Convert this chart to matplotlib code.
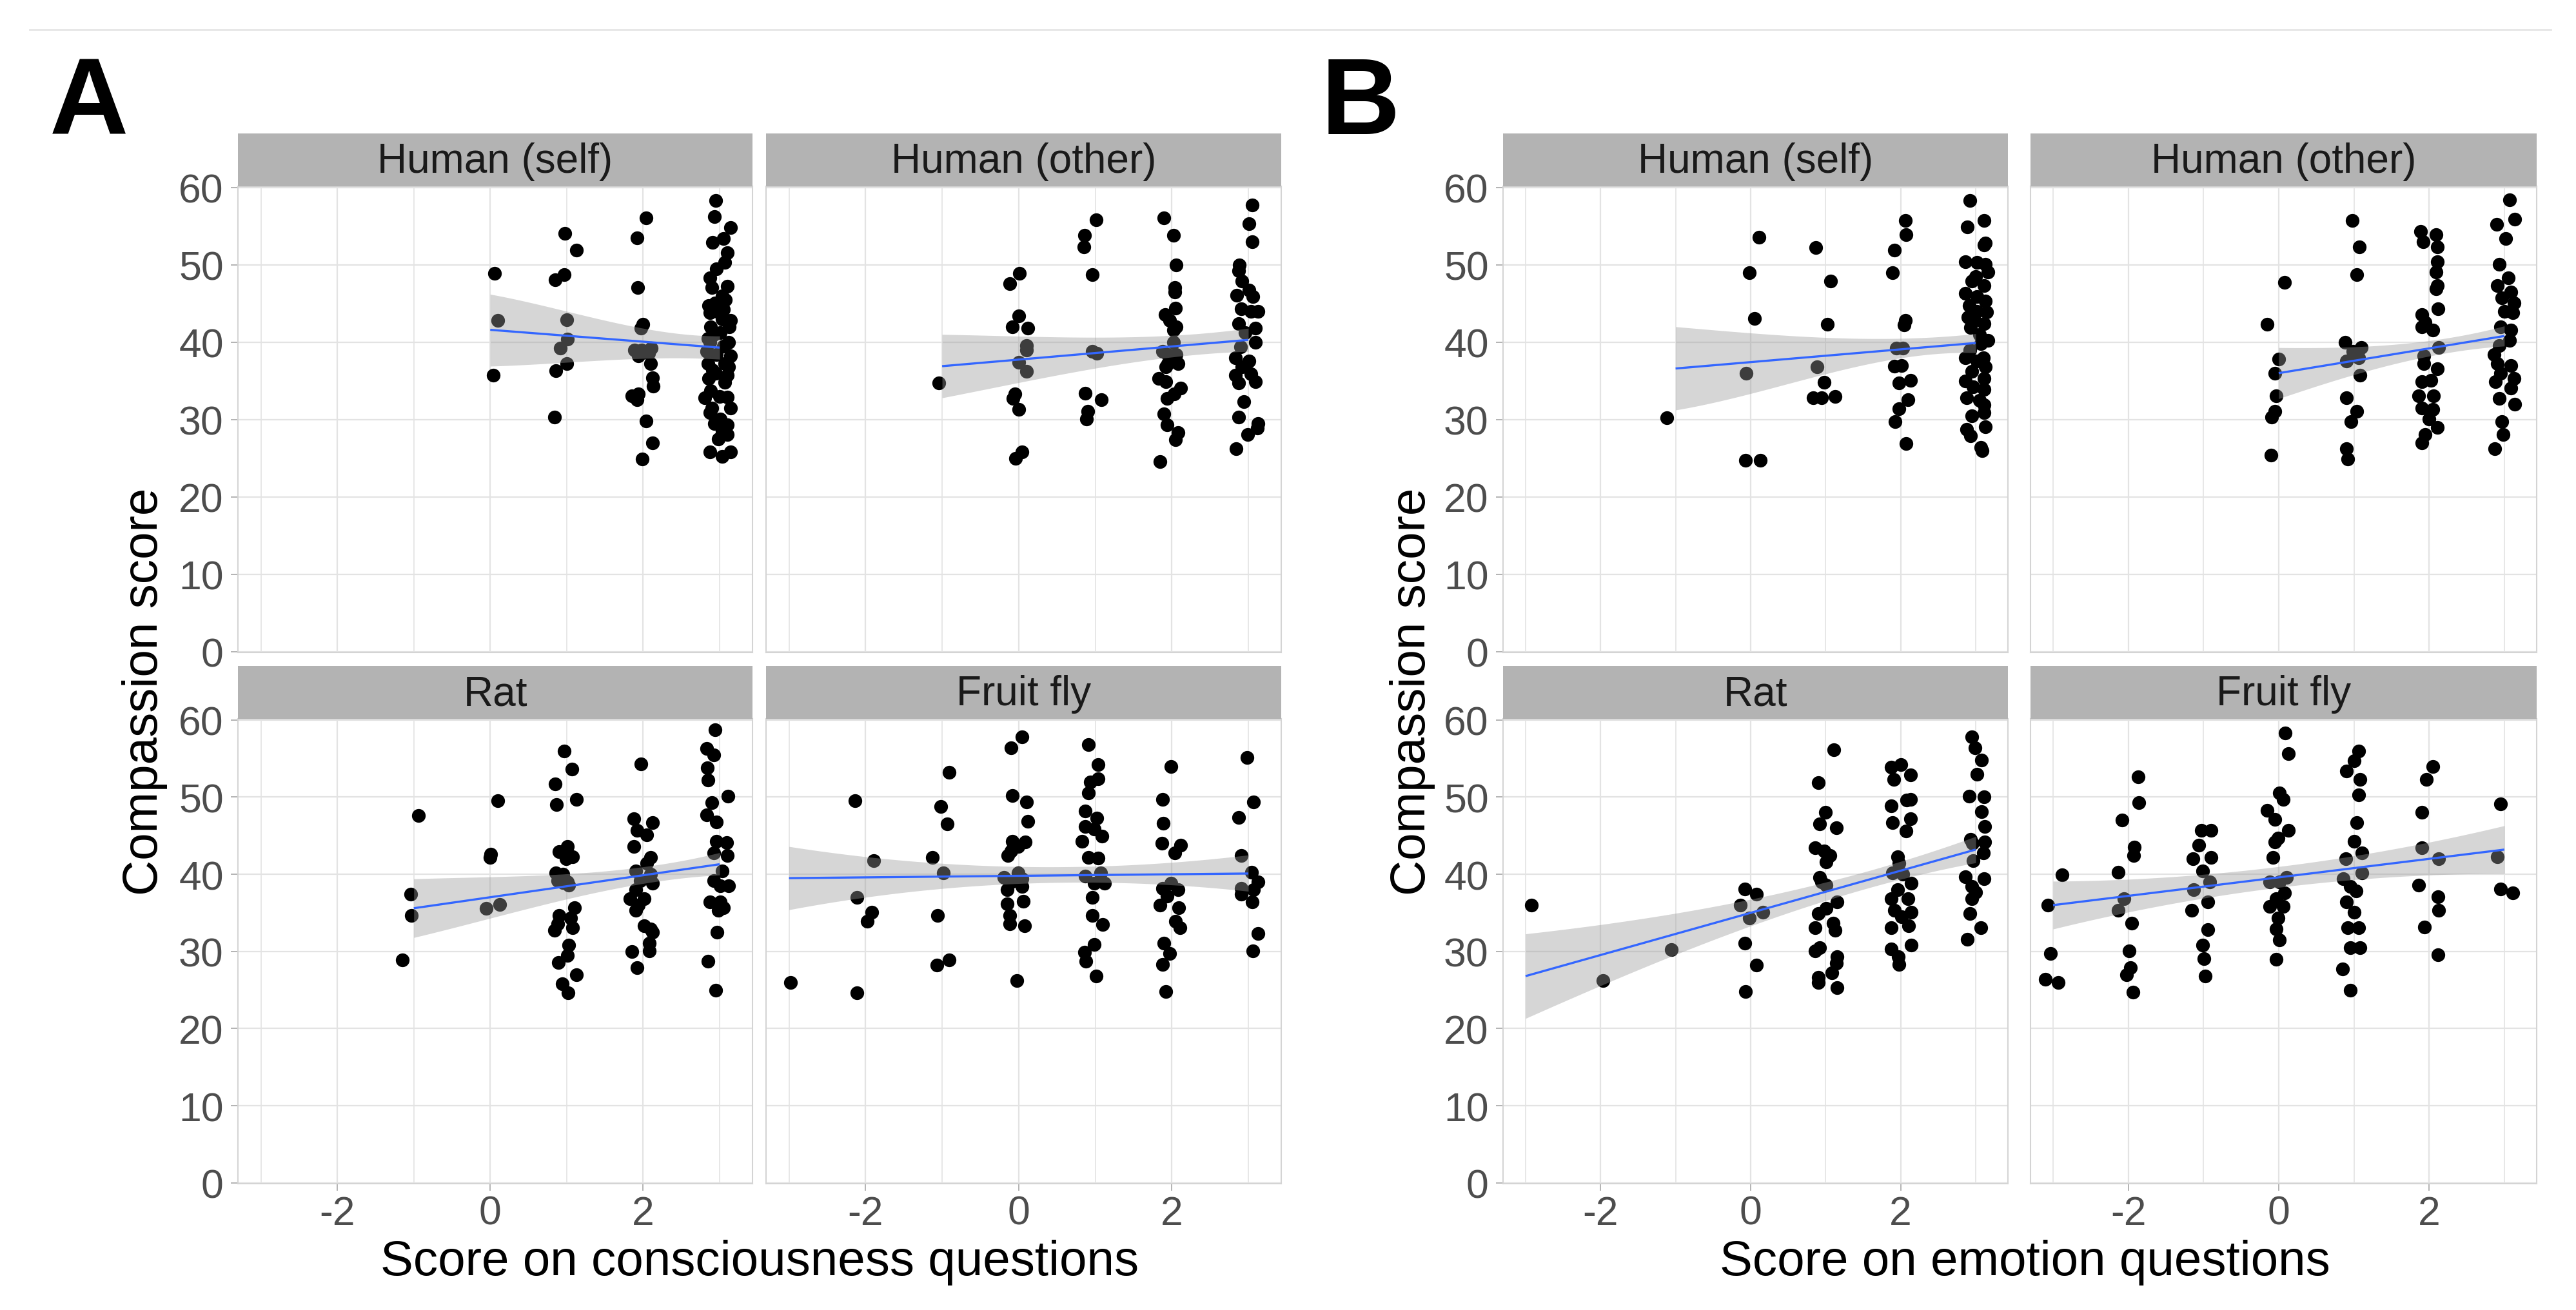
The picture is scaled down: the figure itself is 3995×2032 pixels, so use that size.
import numpy as np
import matplotlib
matplotlib.use("Agg")
import matplotlib.pyplot as plt

plt.rcParams['font.family'] = ['Liberation Sans', 'DejaVu Sans']
plt.rcParams['axes.unicode_minus'] = False

# ---------------- data ----------------
facet_labels = ["Human (self)", "Human (other)", "Rat", "Fruit fly"]
x_title_A = "Score on consciousness questions"
x_title_B = "Score on emotion questions"
y_title = "Compassion score"
x_tick_values = [-2, 0, 2]
y_tick_values = [0, 10, 20, 30, 40, 50, 60]

# Panel A: consciousness questions
cons_self_x = [0.06, 0.10, 0.04,
               0.98, 1.13, 0.97, 0.85, 1.00, 1.01, 0.92, 1.00, 0.86, 0.84,
               2.04, 1.92, 1.93, 2.00, 1.97, 1.89, 1.98, 2.11, 2.07, 1.94, 2.10, 2.12, 2.13, 1.85, 1.94, 1.92, 2.04, 2.12, 1.99,
               2.95, 2.93, 3.14, 2.91, 3.05, 3.10, 3.07, 2.96, 2.87, 3.10, 2.90, 3.03, 2.94, 2.86, 2.87, 3.05, 3.03, 3.14,
               2.88, 3.13, 3.01, 3.12, 2.87, 2.83, 2.96, 3.14, 2.85, 3.07, 2.91, 3.10, 2.86, 3.07, 2.88, 2.81, 3.10, 3.14,
               2.87, 3.01, 3.10, 3.03, 3.10, 2.98, 2.87, 3.03, 3.14,
               2.92, 3.05, 2.95, 3.00, 2.90, 3.08, 2.97, 2.85, 3.12, 2.93]
cons_self_y = [48.9, 42.8, 35.7,
               54.1, 51.9, 48.7, 48.1, 42.9, 40.4, 39.2, 37.2, 36.3, 30.3,
               56.1, 53.5, 47.1, 42.3, 41.8, 39.0, 39.0, 39.2, 38.6, 38.2, 37.2, 35.4, 34.3, 33.1, 33.3, 32.6, 29.8, 27.0, 24.9,
               58.3, 56.2, 54.8, 52.9, 53.4, 51.6, 50.3, 49.5, 48.3, 47.2, 47.1, 46.0, 45.1, 44.7, 43.8, 44.2, 43.0, 42.8,
               42.0, 42.0, 41.2, 40.0, 40.0, 38.8, 38.4, 38.2, 37.2, 37.2, 36.4, 35.7, 35.3, 34.8, 33.7, 32.8, 32.9, 31.5,
               30.9, 30.1, 29.3, 28.5, 28.1, 27.5, 25.8, 25.2, 25.8,
               41.0, 39.5, 36.0, 33.0, 31.5, 45.5, 44.0, 40.5, 36.8, 29.5]
cons_self_fit_x = [0, 3]
cons_self_fit_y = [41.6, 39.3]
cons_self_band_x = [0, 1, 2, 3]
cons_self_band_hi = [46.2, 44.0, 41.8, 40.8]
cons_self_band_lo = [36.9, 37.4, 37.9, 37.8]

cons_other_x = [-1.04,
                0.01, -0.12, 0.00, -0.08, 0.12, 0.10, 0.10, 0.00, 0.10, -0.05, -0.07, 0.00, 0.04, -0.04,
                1.01, 0.86, 0.85, 0.96, 0.96, 1.02, 0.87, 1.08, 0.90, 0.89,
                1.90, 2.02, 2.06, 2.04, 2.04, 2.05, 1.91, 1.97, 2.06, 2.02, 2.02, 1.88, 1.95, 2.06, 1.95, 2.08, 1.92, 1.83,
                1.92, 2.12, 2.03, 1.94, 1.90, 1.94, 2.08, 2.05, 1.85,
                3.05, 3.01, 3.05, 2.88, 2.87, 2.92, 3.01, 2.85, 3.06, 2.91, 3.13, 3.03, 2.87, 3.09, 2.96, 3.09, 2.90, 2.83,
                3.01, 2.92, 3.03, 2.83, 3.09, 2.87, 2.94, 2.87, 3.13, 3.12, 2.99, 2.84]
cons_other_y = [34.7,
                48.9, 47.6, 43.4, 42.0, 41.8, 39.6, 39.0, 37.4, 36.2, 33.3, 32.7, 31.3, 25.8, 25.0,
                55.8, 53.8, 52.3, 48.7, 38.8, 38.6, 33.4, 32.6, 31.1, 30.1,
                56.1, 53.8, 50.0, 47.1, 46.5, 44.4, 43.6, 42.8, 42.0, 41.6, 40.0, 38.8, 38.4, 38.4, 37.2, 37.2, 36.8, 35.3,
                34.9, 34.1, 33.3, 32.7, 30.7, 29.3, 28.3, 27.4, 24.6,
                57.7, 55.3, 53.0, 50.0, 49.2, 47.9, 46.7, 46.1, 45.9, 44.3, 44.0, 44.0, 42.4, 41.8, 41.2, 40.0, 39.4, 38.0,
                37.6, 36.8, 35.9, 35.7, 34.9, 34.7, 32.3, 30.3, 29.5, 28.9, 28.1, 26.2]
cons_other_fit_x = [-1, 3]
cons_other_fit_y = [36.9, 40.3]
cons_other_band_x = [-1, 0, 1, 2, 3]
cons_other_band_hi = [41.0, 40.8, 40.6, 40.9, 41.8]
cons_other_band_lo = [32.8, 34.8, 36.6, 38.1, 38.8]

cons_rat_x = [-0.94, -1.04, -1.03, -1.15,
              0.10, 0.01, 0.00, 0.12, -0.05,
              0.97, 1.07, 0.85, 1.13, 0.87, 1.01, 0.90, 1.08, 0.99, 0.86, 0.95, 0.88, 1.01, 0.95, 1.03, 1.10, 0.90,
              1.05, 0.88, 1.08, 0.84, 1.03, 1.01, 0.89, 1.13, 0.94, 1.02,
              1.97, 1.88, 2.12, 1.92, 2.05, 1.88, 2.10, 2.05, 1.90, 2.10, 1.96, 2.12, 1.90, 1.83, 2.01, 1.94, 1.90,
              2.01, 2.10, 2.12, 2.08, 2.08, 1.85, 1.92,
              2.94, 2.83, 2.92, 2.84, 2.85, 3.11, 2.90, 2.83, 2.96, 2.96, 3.09, 2.92, 3.10, 3.03, 2.92, 3.01, 3.12,
              2.87, 3.01, 3.05, 2.98, 2.97, 2.85, 2.95]
cons_rat_y = [47.6, 37.4, 34.7, 28.9,
              49.5, 42.6, 42.2, 36.1, 35.6,
              56.0, 53.6, 51.7, 49.7, 49.0, 43.6, 42.9, 42.3, 42.0, 40.2, 40.0, 39.2, 39.0, 38.9, 38.6, 35.7, 34.7,
              34.3, 33.6, 33.1, 32.7, 30.8, 29.5, 28.6, 27.0, 25.8, 24.6,
              54.3, 47.2, 46.7, 45.7, 45.1, 43.6, 42.2, 41.4, 40.4, 40.0, 39.2, 38.8, 38.0, 36.8, 36.8, 36.0, 35.3,
              33.3, 32.9, 32.5, 31.1, 30.1, 30.0, 27.9,
              58.7, 56.3, 55.5, 53.8, 52.2, 50.1, 49.3, 47.7, 46.8, 44.3, 44.1, 42.8, 42.4, 40.4, 39.2, 38.5, 38.5,
              36.4, 36.4, 35.7, 35.3, 32.5, 28.7, 25.0]
cons_rat_fit_x = [-1, 3]
cons_rat_fit_y = [35.6, 41.3]
cons_rat_band_x = [-1, 0, 1, 2, 3]
cons_rat_band_hi = [39.4, 39.7, 40.0, 41.0, 42.8]
cons_rat_band_lo = [31.8, 34.3, 36.8, 38.8, 39.9]

cons_fly_x = [-2.98,
              -2.14, -1.89, -2.11, -1.92, -1.98, -2.11,
              -0.91, -1.02, -0.93, -1.13, -0.98, -1.06, -1.07, -0.91,
              0.04, -0.10, -0.08, 0.10, 0.12, -0.08, 0.09, -0.01, -0.10, -0.14, -0.01, -0.19, 0.04, -0.10, -0.15,
              0.04, 0.06, -0.15, -0.12, -0.12, 0.08, -0.02,
              0.91, 1.04, 0.94, 1.04, 0.91, 0.87, 1.02, 0.87, 0.99, 1.09, 0.83, 0.91, 1.04, 0.87, 1.07, 0.99, 1.12,
              0.96, 0.96, 1.10, 0.99, 0.86, 0.88, 1.01,
              1.99, 1.88, 1.89, 1.87, 2.12, 2.04, 1.99, 1.88, 2.08, 1.94, 1.85, 2.09, 2.05, 2.11, 1.90, 1.97, 1.88, 1.92,
              2.98, 3.07, 2.87, 2.91, 3.04, 3.13, 2.91, 3.07, 2.91, 3.05, 3.13, 3.06]
cons_fly_y = [26.0,
              49.5, 41.8, 37.0, 35.1, 33.9, 24.6,
              53.2, 48.8, 46.5, 42.2, 40.2, 34.7, 28.2, 28.9,
              57.8, 56.4, 50.2, 49.4, 46.9, 44.3, 44.2, 43.6, 43.0, 42.4, 40.2, 39.6, 39.4, 39.0, 38.0,
              38.4, 36.5, 36.2, 34.7, 33.6, 33.3, 26.2,
              56.8, 54.2, 52.0, 52.4, 50.5, 48.2, 47.3, 46.2, 45.9, 44.9, 44.3, 42.2, 42.1, 39.8, 40.2, 38.8, 38.8,
              37.0, 34.7, 33.5, 30.9, 29.9, 28.7, 26.8,
              54.0, 49.7, 46.6, 44.0, 43.8, 42.8, 38.8, 38.2, 38.0, 37.2, 36.0, 35.7, 33.9, 33.1, 31.1, 29.7, 28.3, 24.8,
              55.1, 49.4, 47.4, 42.4, 40.3, 39.0, 38.2, 38.0, 37.4, 36.4, 32.3, 30.1]
cons_fly_fit_x = [-3, 3]
cons_fly_fit_y = [39.5, 40.1]
cons_fly_band_x = [-3, 0, 3]
cons_fly_band_hi = [43.6, 41.0, 42.5]
cons_fly_band_lo = [35.4, 38.8, 37.8]

# Panel B: emotion questions
emo_self_x = [-1.12,
              0.11, -0.02, 0.05, -0.06, -0.07, 0.13,
              0.87, 1.07, 1.02, 0.89, 0.98, 0.83, 0.95, 1.13,
              2.06, 2.07, 1.92, 1.89, 2.06, 2.05, 1.94, 2.03, 1.92, 2.01, 2.13, 1.98, 2.10, 1.98, 1.93, 2.07,
              2.92, 3.11, 2.89, 3.11, 3.13, 2.86, 3.02, 3.13, 3.16, 2.95, 3.11, 2.86, 3.02, 3.13, 2.91, 3.02, 3.15,
              2.98, 3.11, 2.93, 3.16, 3.07, 2.86, 3.02, 3.13, 2.95, 2.86, 3.11, 3.11, 2.88, 3.11, 2.95, 3.11, 2.88,
              3.13, 2.93, 3.07, 3.09,
              3.00, 2.90, 3.05, 2.92, 3.10, 2.97, 3.05]
emo_self_y = [30.2,
              53.6, 49.0, 43.1, 36.0, 24.7, 24.7,
              52.2, 47.9, 42.3, 36.8, 34.8, 32.8, 32.8, 33.0,
              55.7, 53.9, 51.9, 49.0, 42.8, 42.2, 39.2, 39.2, 36.9, 37.0, 35.1, 34.7, 32.6, 31.4, 29.7, 26.9,
              58.3, 55.7, 54.9, 52.6, 52.8, 50.4, 50.3, 50.1, 49.1, 47.9, 47.3, 46.3, 45.9, 45.3, 44.7, 44.0, 43.9,
              42.8, 42.4, 41.9, 40.2, 39.8, 38.0, 37.6, 36.8, 36.2, 35.0, 35.3, 33.9, 32.8, 31.9, 30.5, 30.9, 28.7,
              29.1, 27.9, 26.4, 26.0,
              48.5, 43.2, 41.0, 39.0, 38.0, 34.2, 32.5]
emo_self_fit_x = [-1, 3]
emo_self_fit_y = [36.6, 39.9]
emo_self_band_x = [-1, 0, 1, 2, 3]
emo_self_band_hi = [42.0, 41.2, 40.6, 40.5, 41.1]
emo_self_band_lo = [31.2, 33.5, 35.7, 38.1, 38.6]

emo_other_x = [0.08, -0.15, 0.00, -0.05, -0.03, -0.05, -0.09, -0.10,
               0.98, 1.07, 1.04, 0.88, 0.99, 1.10, 0.90, 1.06, 1.08, 0.90, 1.04, 0.96, 0.90, 0.92,
               1.89, 1.92, 2.09, 2.11, 2.11, 2.09, 2.11, 2.09, 2.12, 1.90, 1.95, 2.05, 1.90, 2.13, 1.93, 1.93, 2.11,
               1.90, 2.02, 1.86, 2.06, 1.90, 2.05, 2.00, 2.11, 1.95, 1.90,
               3.07, 3.14, 2.90, 3.02, 2.93, 3.05, 2.91, 3.09, 2.97, 3.13, 3.00, 3.11, 2.95, 3.09, 3.07, 2.93, 2.86,
               2.91, 3.09, 2.95, 3.13, 2.88, 3.09, 2.93, 3.14, 2.97, 2.98, 2.87]
emo_other_y = [47.7, 42.3, 37.8, 36.0, 33.1, 31.1, 30.3, 25.4,
               55.7, 52.3, 48.7, 40.0, 38.8, 39.3, 37.6, 38.0, 35.7, 32.8, 31.1, 29.7, 26.2, 24.9,
               54.3, 53.0, 53.9, 52.3, 50.4, 49.1, 47.3, 46.9, 44.3, 43.6, 42.6, 41.6, 42.0, 39.3, 38.2, 37.2, 36.6,
               34.9, 35.1, 33.1, 33.1, 31.5, 31.3, 30.1, 29.0, 28.1, 27.0,
               58.4, 55.9, 55.2, 53.4, 50.1, 48.3, 47.3, 46.5, 45.7, 45.1, 44.0, 43.8, 42.0, 41.6, 40.2, 39.6, 38.4,
               37.2, 37.0, 36.0, 35.3, 34.9, 34.1, 32.7, 32.0, 29.7, 28.1, 26.2]
emo_other_fit_x = [0, 3]
emo_other_fit_y = [36.0, 40.8]
emo_other_band_x = [0, 1, 2, 3]
emo_other_band_hi = [39.3, 39.4, 40.2, 42.1]
emo_other_band_lo = [32.7, 35.8, 38.2, 39.5]

emo_rat_x = [-2.92, -1.97, -1.06,
             -0.08, 0.08, -0.14, 0.16, -0.02, -0.08, 0.08, -0.07,
             1.11, 0.90, 1.00, 0.92, 1.14, 0.86, 0.98, 1.06, 1.01, 0.92, 1.01, 0.95, 1.15, 1.01, 0.90, 1.10, 0.86,
             1.13, 0.92, 0.86, 1.15, 1.14, 1.08, 0.90, 0.90, 1.15,
             1.87, 2.00, 2.13, 1.91, 2.08, 2.13, 1.87, 2.13, 1.89, 2.07, 1.96, 1.98, 1.89, 2.03, 2.14, 1.96, 1.87,
             2.10, 1.92, 2.14, 2.01, 1.87, 2.11, 2.14, 1.87, 1.97, 1.98,
             2.95, 2.99, 3.08, 3.02, 2.91, 3.11, 3.08, 3.12, 2.93, 2.96, 3.12, 3.10, 2.97, 2.86, 3.11, 2.95, 3.00,
             2.95, 2.92, 3.07, 2.89]
emo_rat_y = [36.0, 26.2, 30.2,
             38.1, 37.4, 36.0, 35.1, 34.3, 31.1, 28.2, 24.8,
             56.1, 51.9, 48.0, 46.5, 46.0, 43.4, 43.0, 42.4, 41.6, 39.6, 38.6, 39.0, 36.4, 35.6, 34.9, 33.7, 33.1,
             32.7, 30.5, 30.1, 29.3, 28.5, 27.2, 26.6, 26.0, 25.3,
             53.9, 54.2, 52.9, 52.3, 49.6, 49.7, 48.9, 47.2, 46.7, 45.6, 42.3, 41.4, 40.2, 40.0, 38.8, 38.0, 36.8,
             36.8, 35.3, 35.1, 34.5, 33.1, 33.3, 30.8, 30.3, 29.3, 28.3,
             57.8, 56.4, 54.8, 53.0, 50.1, 50.0, 48.1, 46.2, 44.5, 44.0, 44.2, 42.8, 41.8, 39.7, 39.4, 38.4, 37.7,
             36.8, 34.9, 33.1, 31.6]
emo_rat_fit_x = [-3, 3]
emo_rat_fit_y = [26.8, 43.2]
emo_rat_band_x = [-3, -2, -1, 0, 1, 2, 3]
emo_rat_band_hi = [32.3, 33.4, 35.0, 36.8, 38.9, 41.7, 44.9]
emo_rat_band_lo = [21.3, 25.6, 29.6, 33.2, 36.7, 39.3, 41.5]

emo_fly_x = [-2.88, -3.07, -3.03, -3.10, -2.93,
             -1.87, -1.86, -2.08, -1.92, -1.93, -2.13, -2.06, -2.13, -1.95, -1.99, -1.97, -2.02, -1.94,
             -1.03, -0.90, -1.06, -1.14, -0.90, -1.01, -0.92, -1.13, -0.94, -1.16, -0.94, -1.01, -0.99, -0.98,
             0.09, 0.13, 0.01, 0.06, -0.15, -0.05, 0.13, -0.01, -0.05, -0.08, -0.12, 0.10, 0.01, 0.08, -0.03,
             -0.12, 0.06, -0.01, -0.03, 0.01, -0.03,
             1.06, 1.00, 0.90, 1.08, 1.06, 1.04, 1.00, 1.11, 0.89, 1.11, 0.86, 0.95, 1.03, 0.90, 1.00, 0.92, 1.06,
             0.95, 1.08, 0.85, 0.95,
             2.05, 1.96, 1.90, 1.90, 2.13, 1.86, 2.12, 2.13, 1.94, 2.12,
             2.95, 2.91, 2.95, 3.11]
emo_fly_y = [39.9, 36.0, 29.7, 26.4, 26.0,
             52.6, 49.3, 47.0, 43.5, 42.4, 40.3, 36.8, 35.3, 33.7, 30.1, 27.9, 27.0, 24.7,
             45.7, 45.7, 43.8, 42.0, 42.2, 40.4, 39.0, 38.0, 36.4, 35.3, 32.8, 30.8, 29.1, 26.8,
             58.3, 55.6, 50.5, 49.7, 48.3, 47.1, 45.7, 44.7, 44.2, 42.2, 39.0, 39.6, 39.0, 37.6, 36.8,
             35.8, 35.8, 34.3, 32.9, 31.5, 29.0,
             56.0, 54.7, 53.4, 52.3, 50.3, 46.7, 44.3, 42.8, 42.0, 40.2, 39.4, 38.4, 37.8, 36.4, 35.1, 33.1, 33.1,
             30.5, 30.5, 27.7, 25.0,
             54.0, 52.3, 48.0, 43.4, 42.0, 38.6, 37.1, 35.3, 33.2, 29.6,
             49.1, 42.3, 38.1, 37.6]
emo_fly_fit_x = [-3, 3]
emo_fly_fit_y = [36.0, 43.2]
emo_fly_band_x = [-3, 0, 3]
emo_fly_band_hi = [39.1, 41.0, 46.3]
emo_fly_band_lo = [32.9, 38.3, 40.1]

# ---------------- figure ----------------
W, H = 3995, 2033
fig = plt.figure(figsize=(W / 100, H / 100), dpi=100)

GRID = '#E3E3E3'
BORDER = '#D4D4D4'
STRIP = '#B3B3B3'
TICKC = '#B3B3B3'
LABC = '#4D4D4D'


def px_axes(x0, y0, x1, y1, **kw):
    return fig.add_axes([x0 / W, 1 - y1 / H, (x1 - x0) / W, (y1 - y0) / H], **kw)


def smooth_edge(bx, by, xx):
    deg = min(len(bx) - 1, 3)
    return np.polyval(np.polyfit(bx, by, deg), xx)


def draw_panel(box, label, xs, ys, fit_x, fit_y, band_x, band_hi, band_lo,
               show_x, show_y):
    x0, y0, x1, y1 = box
    ax = px_axes(x0, y0, x1, y1)
    ax.set_xlim(-3.30, 3.43)
    ax.set_ylim(-0.1, 60.15)
    ax.set_xticks(x_tick_values)
    ax.set_xticks([-3, -1, 1, 3], minor=True)
    ax.set_yticks(y_tick_values)
    ax.grid(which='major', color=GRID, lw=1.6)
    ax.grid(which='minor', axis='x', color=GRID, lw=1.2)
    ax.set_axisbelow(True)
    for s in ax.spines.values():
        s.set_color(BORDER)
        s.set_linewidth(1.5)

    ax.scatter(xs, ys, s=235, c='black', linewidths=0, zorder=2)

    xx = np.linspace(fit_x[0], fit_x[1], 300)
    yy = np.interp(xx, fit_x, fit_y)
    hi = smooth_edge(band_x, band_hi, xx)
    lo = smooth_edge(band_x, band_lo, xx)
    ax.fill_between(xx, lo, hi, color='#999999', alpha=0.4, lw=0, zorder=3)
    ax.plot(xx, yy, color='#3366FF', lw=2.4, zorder=4, solid_capstyle='butt')

    ax.tick_params(axis='both', which='major', length=8, width=1.4, color=TICKC,
                   labelsize=45, labelcolor=LABC)
    ax.tick_params(axis='x', which='major', pad=4)
    ax.tick_params(axis='y', which='major', pad=8)
    ax.tick_params(axis='x', which='minor', length=0)
    if not show_x:
        ax.tick_params(axis='x', which='major', length=0, labelbottom=False)
    if not show_y:
        ax.tick_params(axis='y', which='major', length=0, labelleft=False)

    # strip
    sax = px_axes(x0, y0 - 82, x1, y0)
    sax.set_facecolor(STRIP)
    sax.set_xticks([])
    sax.set_yticks([])
    for s in sax.spines.values():
        s.set_visible(False)
    sax.text(0.5, 0.47, label, ha='center', va='center', fontsize=46,
             color='#1A1A1A', transform=sax.transAxes)
    return ax


colsA = [(369, 1167), (1188, 1987)]
colsB = [(2331, 3114), (3149, 3934)]
rows = [(290, 1013), (1116, 1837)]

panelsA = [
    (cons_self_x, cons_self_y, cons_self_fit_x, cons_self_fit_y, cons_self_band_x, cons_self_band_hi, cons_self_band_lo),
    (cons_other_x, cons_other_y, cons_other_fit_x, cons_other_fit_y, cons_other_band_x, cons_other_band_hi, cons_other_band_lo),
    (cons_rat_x, cons_rat_y, cons_rat_fit_x, cons_rat_fit_y, cons_rat_band_x, cons_rat_band_hi, cons_rat_band_lo),
    (cons_fly_x, cons_fly_y, cons_fly_fit_x, cons_fly_fit_y, cons_fly_band_x, cons_fly_band_hi, cons_fly_band_lo),
]
panelsB = [
    (emo_self_x, emo_self_y, emo_self_fit_x, emo_self_fit_y, emo_self_band_x, emo_self_band_hi, emo_self_band_lo),
    (emo_other_x, emo_other_y, emo_other_fit_x, emo_other_fit_y, emo_other_band_x, emo_other_band_hi, emo_other_band_lo),
    (emo_rat_x, emo_rat_y, emo_rat_fit_x, emo_rat_fit_y, emo_rat_band_x, emo_rat_band_hi, emo_rat_band_lo),
    (emo_fly_x, emo_fly_y, emo_fly_fit_x, emo_fly_fit_y, emo_fly_band_x, emo_fly_band_hi, emo_fly_band_lo),
]

for cols, panels in ((colsA, panelsA), (colsB, panelsB)):
    for i, p in enumerate(panels):
        r, c = divmod(i, 2)
        box = (cols[c][0], rows[r][0], cols[c][1], rows[r][1])
        draw_panel(box, facet_labels[i], *p, show_x=(r == 1), show_y=(c == 0))

# titles and panel letters
fig.text(77 / W, 1 - 208 / H, 'A', fontsize=122, fontweight='bold', ha='left', va='baseline')
fig.text(2049 / W, 1 - 208 / H, 'B', fontsize=122, fontweight='bold', ha='left', va='baseline')
fig.text(225 / W, 1 - 1073 / H, y_title, rotation=90, fontsize=55, ha='center', va='center')
fig.text(2190 / W, 1 - 1073 / H, y_title, rotation=90, fontsize=55, ha='center', va='center')
fig.text(1178 / W, 1 - 1978 / H, x_title_A, fontsize=55, ha='center', va='baseline')
fig.text(3140 / W, 1 - 1978 / H, x_title_B, fontsize=55, ha='center', va='baseline')

# thin separator line at the top
fig.add_artist(plt.Line2D([46 / W, 3956 / W], [1 - 47 / H, 1 - 47 / H],
                          transform=fig.transFigure, color='#E6E6E6', lw=2))

fig.savefig('out.png', dpi=100, facecolor='white')
